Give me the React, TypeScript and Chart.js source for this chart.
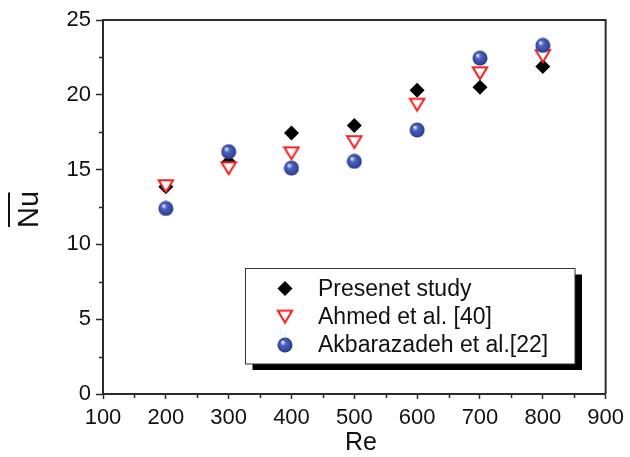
import { useEffect, useRef } from "react";
import { Chart, registerables } from "chart.js";

Chart.register(...registerables);

// Average Nusselt number against Reynolds number
const reValues = [200, 300, 400, 500, 600, 700, 800];
const presentStudy = [13.85, 15.5, 17.45, 17.95, 20.3, 20.5, 21.9];
const ahmedEtAl = [13.9, 15.1, 16.1, 16.85, 19.35, 21.45, 22.6];
const akbarazadehEtAl = [12.4, 16.2, 15.1, 15.55, 17.65, 22.45, 23.3];

const seriesLabels = ["Presenet study", "Ahmed et al. [40]", "Akbarazadeh et al.[22]"];
const xTitle = "Re";
const yTitle = "Nu";

const xMin = 100;
const xMax = 900;
const xStep = 100;
const yMin = 0;
const yMax = 25;
const yStep = 5;

const FONT = "'Liberation Sans', Arial, sans-serif";
const AXIS_COLOR = "#2b2b2b";

function makeTriangle(): HTMLCanvasElement {
  const c = document.createElement("canvas");
  c.width = 18;
  c.height = 16;
  const ctx = c.getContext("2d")!;
  ctx.fillStyle = "#ffffff";
  ctx.strokeStyle = "#f02020";
  ctx.lineWidth = 2;
  ctx.lineJoin = "miter";
  ctx.beginPath();
  ctx.moveTo(1.8, 2.3);
  ctx.lineTo(16.2, 2.3);
  ctx.lineTo(9, 14);
  ctx.closePath();
  ctx.fill();
  ctx.stroke();
  return c;
}

function makeSphere(): HTMLCanvasElement {
  const c = document.createElement("canvas");
  c.width = 16;
  c.height = 16;
  const ctx = c.getContext("2d")!;
  const g = ctx.createRadialGradient(5.4, 5.0, 0.2, 8, 8, 7.8);
  g.addColorStop(0, "#ffffff");
  g.addColorStop(0.12, "#b4bfee");
  g.addColorStop(0.35, "#4a62bc");
  g.addColorStop(0.8, "#34479f");
  g.addColorStop(1, "#24347e");
  ctx.fillStyle = g;
  ctx.beginPath();
  ctx.arc(8, 8, 7.5, 0, Math.PI * 2);
  ctx.fill();
  return c;
}

export default function App() {
  const canvasRef = useRef<HTMLCanvasElement | null>(null);

  useEffect(() => {
    if (!canvasRef.current) return;
    const triangle = makeTriangle();
    const sphere = makeSphere();

    const toPoints = (ys: number[]) => reValues.map((x, i) => ({ x, y: ys[i] }));

    const decorations = {
      id: "decorations",
      afterDraw(chart: any) {
        const { ctx, chartArea } = chart;
        const xs = chart.scales.x;
        const ys = chart.scales.y;
        ctx.save();

        // frame on top and right
        ctx.strokeStyle = AXIS_COLOR;
        ctx.lineWidth = 2;
        ctx.beginPath();
        ctx.moveTo(chartArea.left, chartArea.top);
        ctx.lineTo(chartArea.right, chartArea.top);
        ctx.lineTo(chartArea.right, chartArea.bottom);
        ctx.stroke();

        // minor ticks
        ctx.lineWidth = 1.5;
        ctx.beginPath();
        for (let v = xMin + xStep / 2; v < xMax; v += xStep) {
          const px = Math.round(xs.getPixelForValue(v)) + 0.5;
          ctx.moveTo(px, chartArea.bottom);
          ctx.lineTo(px, chartArea.bottom + 4);
        }
        for (let v = yMin + yStep / 2; v < yMax; v += yStep) {
          const py = Math.round(ys.getPixelForValue(v)) + 0.5;
          ctx.moveTo(chartArea.left, py);
          ctx.lineTo(chartArea.left - 4, py);
        }
        ctx.stroke();

        // axis titles
        ctx.fillStyle = "#111";
        ctx.font = `25px ${FONT}`;
        ctx.textAlign = "center";
        ctx.textBaseline = "alphabetic";
        ctx.fillText(xTitle, 361, 450);

        ctx.save();
        ctx.translate(38, 209.5);
        ctx.rotate(-Math.PI / 2);
        ctx.font = `29px ${FONT}`;
        ctx.fillText(yTitle, 0, 0);
        ctx.restore();
        ctx.strokeStyle = "#111";
        ctx.lineWidth = 2;
        ctx.beginPath();
        ctx.moveTo(9, 192.5);
        ctx.lineTo(9, 227);
        ctx.stroke();

        // legend box with drop shadow
        const bx = 245.5, by = 268.5, bw = 329.5, bh = 95.5;
        ctx.fillStyle = "#000";
        ctx.fillRect(bx + 7, by + 6, bw, bh);
        ctx.fillStyle = "#fff";
        ctx.fillRect(bx, by, bw, bh);
        ctx.strokeStyle = "#333";
        ctx.lineWidth = 1;
        ctx.strokeRect(bx, by, bw, bh);

        const rows = [288.5, 316.5, 345];
        ctx.font = `23px ${FONT}`;
        ctx.textAlign = "left";
        ctx.textBaseline = "middle";
        chart.data.datasets.forEach((d: any, i: number) => {
          const cy = rows[i];
          const ps = d.pointStyle;
          if (ps instanceof HTMLCanvasElement) {
            ctx.drawImage(ps, 285 - ps.width / 2, cy - ps.height / 2);
          } else {
            ctx.fillStyle = d.pointBackgroundColor;
            ctx.beginPath();
            ctx.moveTo(285 - 7.5, cy);
            ctx.lineTo(285, cy - 7.5);
            ctx.lineTo(285 + 7.5, cy);
            ctx.lineTo(285, cy + 7.5);
            ctx.closePath();
            ctx.fill();
          }
          ctx.fillStyle = "#111";
          ctx.fillText(seriesLabels[i], 318, cy + 1);
        });

        ctx.restore();
      },
    };

    const chart = new Chart(canvasRef.current, {
      type: "scatter",
      data: {
        datasets: [
          {
            label: seriesLabels[0],
            data: toPoints(presentStudy),
            pointStyle: "rectRot",
            pointRadius: 7.5,
            pointBackgroundColor: "#000000",
            pointBorderWidth: 0,
            order: 3,
          },
          {
            label: seriesLabels[1],
            data: toPoints(ahmedEtAl),
            pointStyle: triangle,
            pointRadius: 8,
            order: 2,
          },
          {
            label: seriesLabels[2],
            data: toPoints(akbarazadehEtAl),
            pointStyle: sphere,
            pointRadius: 8,
            order: 1,
          },
        ],
      },
      options: {
        animation: false,
        responsive: true,
        maintainAspectRatio: false,
        layout: { padding: { left: 0, top: 20, right: 23, bottom: 0 } },
        plugins: {
          legend: { display: false },
          tooltip: { enabled: false },
        },
        scales: {
          x: {
            type: "linear",
            min: xMin,
            max: xMax,
            ticks: {
              stepSize: xStep,
              font: { family: FONT, size: 22 },
              color: "#111",
              padding: 6,
              maxRotation: 0,
            },
            grid: {
              display: true,
              drawOnChartArea: false,
              drawTicks: true,
              tickLength: 5,
              tickWidth: 1.5,
              tickColor: AXIS_COLOR,
            },
            border: { display: true, color: AXIS_COLOR, width: 2 },
            afterFit(scale: any) {
              scale.height = 63;
            },
          },
          y: {
            type: "linear",
            min: yMin,
            max: yMax,
            ticks: {
              stepSize: yStep,
              font: { family: FONT, size: 22 },
              color: "#111",
              padding: 5,
            },
            grid: {
              display: true,
              drawOnChartArea: false,
              drawTicks: true,
              tickLength: 7,
              tickWidth: 1.5,
              tickColor: AXIS_COLOR,
            },
            border: { display: true, color: AXIS_COLOR, width: 2 },
            afterFit(scale: any) {
              scale.width = 103;
            },
          },
        },
      },
      plugins: [decorations],
    });

    return () => chart.destroy();
  }, []);

  return (
    <div style={{ position: "absolute", left: 0, top: 0, width: 630, height: 457, background: "#fff" }}>
      <canvas ref={canvasRef} />
    </div>
  );
}
